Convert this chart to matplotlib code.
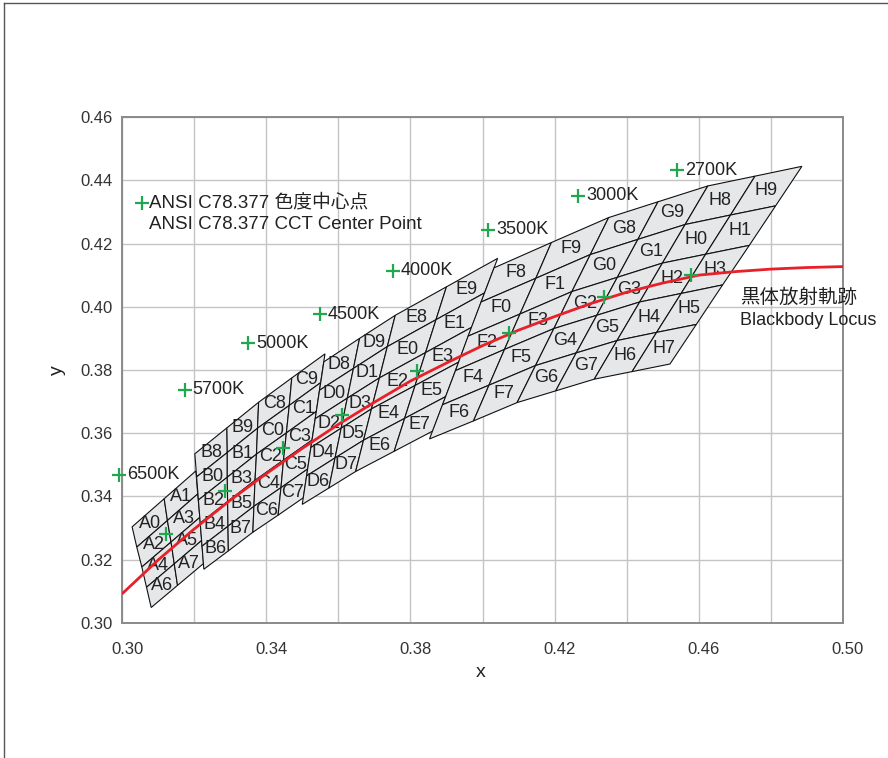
import numpy as np
import matplotlib
matplotlib.use("Agg")
import matplotlib.pyplot as plt
import matplotlib.transforms as mtransforms
from matplotlib.patches import Polygon
from matplotlib.lines import Line2D

plt.rcParams['font.family'] = ['Liberation Sans', 'Noto Sans CJK JP', 'DejaVu Sans']

# ---- bin grid nodes (columns: left, middle, right; rows top -> bottom) ----
A_x = [[0.3028, 0.3041, 0.3055, 0.3068, 0.3081],
       [0.3117, 0.3126, 0.3136, 0.3145, 0.3154],
       [0.3205, 0.3210, 0.3216, 0.3221, 0.3226]]
A_y = [[0.3304, 0.3240, 0.3177, 0.3113, 0.3049],
       [0.3393, 0.3324, 0.3256, 0.3187, 0.3119],
       [0.3481, 0.3408, 0.3334, 0.3261, 0.3188]]

B_x = [[0.3202, 0.3207, 0.3212, 0.3217, 0.3222, 0.3227],
       [0.3291, 0.3292, 0.3292, 0.3293, 0.3294, 0.3295],
       [0.3379, 0.3376, 0.3373, 0.3369, 0.3366, 0.3363]]
B_y = [[0.3535, 0.3462, 0.3389, 0.3316, 0.3243, 0.3170],
       [0.3617, 0.3539, 0.3461, 0.3384, 0.3306, 0.3228],
       [0.3698, 0.3616, 0.3534, 0.3451, 0.3369, 0.3287]]

C_x = [[0.3379, 0.3376, 0.3373, 0.3369, 0.3366, 0.3363],
       [0.3471, 0.3464, 0.3456, 0.3448, 0.3441, 0.3433],
       [0.3563, 0.3551, 0.3539, 0.3527, 0.3515, 0.3503]]
C_y = [[0.3698, 0.3616, 0.3534, 0.3451, 0.3369, 0.3287],
       [0.3775, 0.3688, 0.3601, 0.3515, 0.3428, 0.3341],
       [0.3851, 0.3760, 0.3669, 0.3578, 0.3487, 0.3396]]

D_x = [[0.3560, 0.3548, 0.3536, 0.3524, 0.3512, 0.3500],
       [0.3659, 0.3642, 0.3625, 0.3608, 0.3591, 0.3574],
       [0.3758, 0.3736, 0.3714, 0.3692, 0.3670, 0.3648]]
D_y = [[0.3826, 0.3736, 0.3646, 0.3555, 0.3465, 0.3375],
       [0.3900, 0.3805, 0.3711, 0.3616, 0.3522, 0.3427],
       [0.3973, 0.3874, 0.3775, 0.3677, 0.3578, 0.3479]]

E_x = [[0.3758, 0.3736, 0.3714, 0.3692, 0.3670, 0.3648],
       [0.3900, 0.3871, 0.3842, 0.3813, 0.3784, 0.3755],
       [0.4042, 0.4006, 0.3970, 0.3934, 0.3898, 0.3862]]
E_y = [[0.3973, 0.3874, 0.3775, 0.3677, 0.3578, 0.3479],
       [0.4063, 0.3959, 0.3855, 0.3751, 0.3647, 0.3543],
       [0.4153, 0.4044, 0.3935, 0.3825, 0.3716, 0.3607]]

F_x = [[0.4032, 0.3996, 0.3960, 0.3925, 0.3889, 0.3853],
       [0.4191, 0.4148, 0.4104, 0.4061, 0.4018, 0.3975],
       [0.4350, 0.4299, 0.4248, 0.4198, 0.4147, 0.4096]]
F_y = [[0.4123, 0.4015, 0.3907, 0.3798, 0.3690, 0.3582],
       [0.4203, 0.4090, 0.3977, 0.3865, 0.3752, 0.3639],
       [0.4282, 0.4165, 0.4048, 0.3931, 0.3814, 0.3697]]

G_x = [[0.4350, 0.4299, 0.4248, 0.4198, 0.4147, 0.4096],
       [0.4487, 0.4431, 0.4374, 0.4317, 0.4260, 0.4203],
       [0.4625, 0.4562, 0.4499, 0.4436, 0.4373, 0.4310]]
G_y = [[0.4282, 0.4165, 0.4048, 0.3931, 0.3814, 0.3697],
       [0.4332, 0.4213, 0.4093, 0.3973, 0.3854, 0.3734],
       [0.4382, 0.4260, 0.4138, 0.4015, 0.3893, 0.3771]]

H_x = [[0.4625, 0.4562, 0.4499, 0.4436, 0.4373, 0.4310],
       [0.4756, 0.4688, 0.4619, 0.4551, 0.4483, 0.4415],
       [0.4886, 0.4813, 0.4740, 0.4666, 0.4593, 0.4520]]
H_y = [[0.4382, 0.4260, 0.4138, 0.4015, 0.3893, 0.3771],
       [0.4413, 0.4290, 0.4166, 0.4042, 0.3919, 0.3795],
       [0.4444, 0.4319, 0.4194, 0.4069, 0.3944, 0.3819]]

group_names = ['A', 'B', 'C', 'D', 'E', 'F', 'G', 'H']
rows_short = [(0, 1), (2, 3), (4, 5), (6, 7)]
rows_full = [(8, 9), (0, 1), (2, 3), (4, 5), (6, 7)]

# ---- ANSI C78.377 centre points ----
center_x = [0.3123, 0.3287, 0.3447, 0.3611, 0.3818, 0.4073, 0.4338, 0.4578]
center_y = [0.3282, 0.3417, 0.3553, 0.3658, 0.3797, 0.3917, 0.4030, 0.4101]

# ---- CCT labels ----
cct_labels = ['6500K', '5700K', '5000K', '4500K', '4000K', '3500K', '3000K', '2700K']
cct_lab_x = [0.2992, 0.3175, 0.3350, 0.3549, 0.3751, 0.4016, 0.4266, 0.4540]
cct_lab_y = [0.3468, 0.3737, 0.3884, 0.3977, 0.4114, 0.4243, 0.4351, 0.4432]

# ---- blackbody locus ----
locus_x = [0.300, 0.310, 0.320, 0.330, 0.340, 0.350, 0.360, 0.370, 0.380, 0.390, 0.400,
           0.410, 0.420, 0.430, 0.440, 0.450, 0.460, 0.470, 0.480, 0.490, 0.500]
locus_y = [0.3092, 0.3199, 0.3297, 0.3388, 0.3472, 0.3552, 0.3628, 0.3698, 0.3765, 0.3822, 0.3877,
           0.3926, 0.3969, 0.4010, 0.4046, 0.4075, 0.4100, 0.4111, 0.4119, 0.4124, 0.4127]

x_ticks = [0.30, 0.34, 0.38, 0.42, 0.46, 0.50]
y_ticks = [0.30, 0.32, 0.34, 0.36, 0.38, 0.40, 0.42, 0.44, 0.46]

W, H = 888, 758
fig = plt.figure(figsize=(W / 100, H / 100), dpi=100)
ax = fig.add_axes([122 / W, 1 - 623 / H, (843 - 122) / W, (623 - 117) / H])
ax.set_xlim(0.30, 0.50)
ax.set_ylim(0.30, 0.46)

ax.set_xticks(x_ticks)
ax.set_xticklabels([f'{v:.2f}' for v in x_ticks])
ax.set_xticks(np.arange(0.30, 0.5001, 0.02), minor=True)
ax.set_yticks(y_ticks)
ax.set_yticklabels([f'{v:.2f}' for v in y_ticks])
ax.grid(True, which='both', color='#c4c4c4', lw=1.0, zorder=0)
ax.set_axisbelow(True)
ax.tick_params(which='both', length=0)
ax.tick_params(axis='x', pad=14, labelsize=12, labelcolor='#333333')
ax.tick_params(axis='y', pad=7, labelsize=12, labelcolor='#333333')
for sp in ax.spines.values():
    sp.set_color('#8a8a8a')
    sp.set_linewidth(1.4)
for lab in ax.get_xticklabels():
    lab.set_transform(lab.get_transform() + mtransforms.ScaledTranslation(5 / 100, 0, fig.dpi_scale_trans))

ax.set_xlabel('x', fontsize=14, color='#222222')
ax.xaxis.set_label_coords(0.498, -0.097)
ax.xaxis.label.set_va('center')
ax.set_ylabel('y', fontsize=14, color='#222222')
ax.yaxis.set_label_coords(-0.090, 0.5)
ax.yaxis.label.set_va('center')

groups = [A_x, A_y, B_x, B_y, C_x, C_y, D_x, D_y, E_x, E_y, F_x, F_y, G_x, G_y, H_x, H_y]
for gi, name in enumerate(group_names):
    gx = groups[2 * gi]
    gy = groups[2 * gi + 1]
    nrow = len(gx[0]) - 1
    codes = rows_short if nrow == 4 else rows_full
    for r in range(nrow):
        for c in range(2):
            px = [gx[c][r], gx[c + 1][r], gx[c + 1][r + 1], gx[c][r + 1]]
            py = [gy[c][r], gy[c + 1][r], gy[c + 1][r + 1], gy[c][r + 1]]
            poly = Polygon(list(zip(px, py)), closed=True, facecolor='#e6e7e9',
                           edgecolor='#111111', lw=0.8, zorder=2)
            ax.add_patch(poly)
            ax.text(np.mean(px), np.mean(py), f'{name}{codes[r][c]}', ha='center', va='center',
                    fontsize=13, color='#222222', zorder=3)

ax.plot(locus_x, locus_y, color='#e8202a', lw=2.0, zorder=4, solid_capstyle='butt')

green = '#1fa84f'
ax.plot(center_x, center_y, linestyle='none', marker='+', ms=9.5, mew=1.6, color=green, zorder=5)
ax.plot(cct_lab_x, cct_lab_y, linestyle='none', marker='+', ms=9.5, mew=1.6, color=green,
        zorder=5, clip_on=False)
off = mtransforms.offset_copy(ax.transData, fig=fig, x=5.5, y=0, units='points')
for lx, ly, t in zip(cct_lab_x, cct_lab_y, cct_labels):
    ax.text(lx, ly, t, transform=off, ha='left', va='center', fontsize=13, color='#222222', zorder=6)

# legend-like annotation
leg_x, leg_y = 0.3055, 0.4329
ax.plot([leg_x], [leg_y], linestyle='none', marker='+', ms=9.5, mew=1.6, color=green, zorder=5)
ax.text(leg_x, leg_y, 'ANSI C78.377 色度中心点', transform=off, ha='left', va='center',
        fontsize=13.5, color='#222222', zorder=6)
ax.text(leg_x, leg_y - 0.0068, 'ANSI C78.377 CCT Center Point', transform=off, ha='left', va='center',
        fontsize=13.5, color='#222222', zorder=6)

ax.text(0.4714, 0.4028, '黒体放射軌跡', ha='left', va='center', fontsize=14, color='#222222',
        zorder=6, clip_on=False)
ax.text(0.4714, 0.3958, 'Blackbody Locus', ha='left', va='center', fontsize=13, color='#222222',
        zorder=6, clip_on=False)

# outer frame fragments
fig.add_artist(Line2D([3.5 / W, 3.5 / W], [0, 1 - 2.5 / H], transform=fig.transFigure, color='#555555', lw=1.0))
fig.add_artist(Line2D([3.5 / W, 1], [1 - 2.5 / H, 1 - 2.5 / H], transform=fig.transFigure, color='#555555', lw=1.0))

fig.savefig('out.png', dpi=100)
